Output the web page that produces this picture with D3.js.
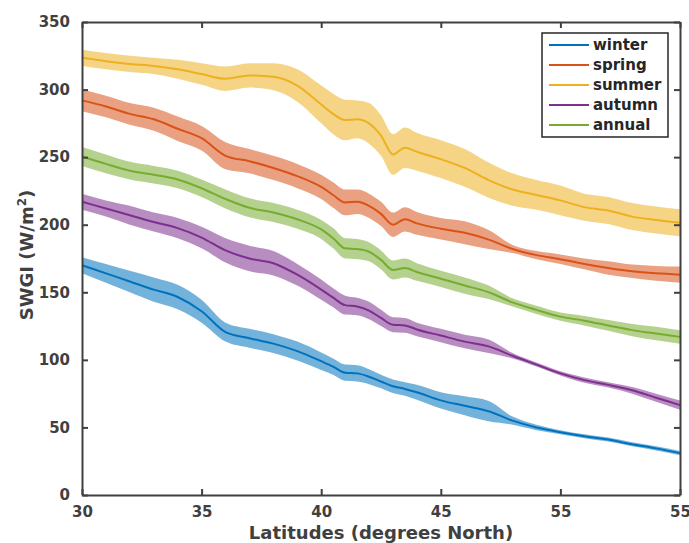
<!DOCTYPE html>
<html>
<head>
<meta charset="utf-8">
<script src="https://cdn.jsdelivr.net/npm/d3@7"></script>
<style>
  html, body { margin: 0; padding: 0; background: #fff; }
  svg { display: block; font-family: "DejaVu Sans", sans-serif; }
</style>
</head>
<body>
<svg id="chart" width="689" height="543"></svg>
<script>
// Latitude grid (degrees North)
const latitudes = [30, 31, 32, 33, 34, 35, 36, 37, 38, 39, 40, 40.5, 41, 41.5, 42, 42.5, 43, 43.5, 44, 45, 46, 47, 48, 49, 50, 51, 52, 53, 54, 55];

// Mean SWGI per season (W/m^2)
const winterMean = [170, 164, 158, 152, 146.5, 136, 120.5, 116, 112, 106.5, 99, 95, 90.5, 90, 87.5, 84, 80.5, 78.5, 76, 70, 66, 62, 55, 50, 46.5, 43.5, 41, 37.5, 34.5, 31];
const springMean = [292, 287.5, 282, 278, 271, 264, 251, 247, 242, 236, 228, 222, 216.5, 217, 214, 208, 200, 204, 201, 197, 194, 189, 182, 177.5, 174.5, 171, 168, 165.5, 164, 163];
const summerMean = [323.5, 321, 319, 317.5, 315, 311.5, 308, 310.5, 309.5, 303, 289, 282, 277.5, 278, 275, 266, 252, 257, 254, 248.5, 242, 233, 226, 222, 218, 213, 210.5, 206, 203.5, 201.5];
const autumnMean = [217, 212, 207, 202, 197.5, 190.5, 181, 175, 171.5, 163, 152, 146, 140.5, 139.5, 136.5, 131, 126, 125.5, 122.5, 118, 113.5, 110, 103, 96.5, 90, 85, 81.5, 77.5, 72, 66.5];
const annualMean = [250.5, 245, 240, 237, 233.5, 227, 219, 212.5, 209, 204, 196.5, 190, 182.5, 182, 180, 174, 166.5, 168, 165, 160, 155, 150, 142.5, 137, 132, 129, 125.5, 122, 119.5, 117];

// Half-width of the spread band around each mean (W/m^2)
const winterSpread = [6, 7, 8, 9, 9, 8.5, 7, 7, 7, 7, 6.5, 6, 6, 6, 5.5, 5, 5, 5, 5.5, 6, 7, 7.5, 3, 2, 1.5, 1.5, 1.5, 1.5, 1.5, 1.5];
const springSpread = [8, 8, 8, 8.5, 9, 9, 10, 9, 9, 9, 9, 9.5, 9.5, 9, 9, 9, 9, 9, 8.5, 8, 8.5, 7, 3, 3, 3.5, 4, 5, 5, 5.5, 6];
const summerSpread = [6, 6, 6, 6, 7, 8, 9, 9, 10, 12, 14, 15, 15, 14, 15, 15, 15, 15, 14, 14, 14, 13, 12, 11, 11, 10, 10, 10, 10, 10];
const autumnSpread = [6, 6, 7, 7, 7.5, 8, 9, 9.5, 9, 8, 7.5, 7, 7, 6.5, 6.5, 6, 5.5, 5.5, 5, 5, 5, 5, 2, 1.5, 1.5, 2, 2, 2.5, 3, 3.5];
const annualSpread = [7, 7, 6.5, 6.5, 6.5, 6.5, 7, 7, 7, 7, 7, 7.5, 7.5, 7.5, 7, 7, 7, 7, 6.5, 6, 6, 5, 3, 3, 3, 3.5, 4, 4.5, 5, 5];

const seriesNames = ["winter", "spring", "summer", "autumn", "annual"];
const seriesColors = ["#0072BD", "#D95319", "#EDB120", "#7E2F8E", "#77AC30"];
const seriesMeans = [winterMean, springMean, summerMean, autumnMean, annualMean];
const seriesSpreads = [winterSpread, springSpread, summerSpread, autumnSpread, annualSpread];

const xTickValues = [30, 35, 40, 45, 50, 55];
const xTickLabels = ["30", "35", "40", "45", "55", "55"];
const yTickValues = [0, 50, 100, 150, 200, 250, 300, 350];

const svg = d3.select("#chart");
const margin = { left: 82, right: 9, top: 22, bottom: 48 };
const W = 689, H = 543;
const x = d3.scaleLinear().domain([30, 55]).range([margin.left, W - margin.right]);
const y = d3.scaleLinear().domain([0, 350]).range([H - margin.bottom, margin.top]);

const axisColor = "#404040";
const fontSize = 15;

// Draw bands first, then mean lines on top
const plot = svg.append("g");
seriesNames.forEach((name, i) => {
  const rows = latitudes.map((lat, j) => ({ lat, m: seriesMeans[i][j], s: seriesSpreads[i][j] }));
  const area = d3.area()
    .x(d => x(d.lat))
    .y0(d => y(d.m - d.s))
    .y1(d => y(d.m + d.s))
    .curve(d3.curveMonotoneX);
  plot.append("path")
    .datum(rows)
    .attr("d", area)
    .attr("fill", seriesColors[i])
    .attr("fill-opacity", 0.55)
    .attr("stroke", "none");
});
seriesNames.forEach((name, i) => {
  const rows = latitudes.map((lat, j) => ({ lat, m: seriesMeans[i][j] }));
  const line = d3.line()
    .x(d => x(d.lat))
    .y(d => y(d.m))
    .curve(d3.curveMonotoneX);
  plot.append("path")
    .datum(rows)
    .attr("d", line)
    .attr("fill", "none")
    .attr("stroke", seriesColors[i])
    .attr("stroke-width", 2);
});

// Axes with inward ticks on all four sides
const tickLen = 6;
const xBottom = d3.axisBottom(x).tickValues(xTickValues).tickSizeInner(-tickLen).tickSizeOuter(0)
  .tickPadding(tickLen + 5).tickFormat((d, i) => xTickLabels[i]);
const xTop = d3.axisTop(x).tickValues(xTickValues).tickSizeInner(-tickLen).tickSizeOuter(0).tickFormat("");
const yLeft = d3.axisLeft(y).tickValues(yTickValues).tickSizeInner(-tickLen).tickSizeOuter(0)
  .tickPadding(tickLen + 6);
const yRight = d3.axisRight(y).tickValues(yTickValues).tickSizeInner(-tickLen).tickSizeOuter(0).tickFormat("");

function styleAxis(g) {
  g.selectAll(".domain").attr("stroke", axisColor).attr("stroke-width", 2);
  g.selectAll(".tick line").attr("stroke", axisColor).attr("stroke-width", 2);
  g.selectAll(".tick text").attr("fill", axisColor).attr("font-size", fontSize)
    .attr("font-weight", "bold").attr("font-family", "DejaVu Sans, sans-serif");
}
svg.append("g").attr("transform", `translate(0,${y(0)})`).call(xBottom).call(styleAxis);
svg.append("g").attr("transform", `translate(0,${y(350)})`).call(xTop).call(styleAxis);
svg.append("g").attr("transform", `translate(${x(30)},0)`).call(yLeft).call(styleAxis);
svg.append("g").attr("transform", `translate(${x(55)},0)`).call(yRight).call(styleAxis);

// Axis titles
svg.append("text")
  .attr("x", (x(30) + x(55)) / 2)
  .attr("y", 539)
  .attr("text-anchor", "middle")
  .attr("fill", axisColor)
  .attr("font-size", 18)
  .attr("font-weight", "bold")
  .text("Latitudes (degrees North)");

const yTitle = svg.append("text")
  .attr("transform", `translate(33,255) rotate(-90)`)
  .attr("text-anchor", "middle")
  .attr("fill", axisColor)
  .attr("font-size", 18)
  .attr("font-weight", "bold");
yTitle.append("tspan").text("SWGI (W/m");
yTitle.append("tspan").attr("baseline-shift", "super").attr("font-size", 12).text("2");
yTitle.append("tspan").text(")");

// Legend
const legend = svg.append("g").attr("transform", "translate(542,33)");
legend.append("rect")
  .attr("width", 126).attr("height", 104)
  .attr("fill", "#fff")
  .attr("stroke", "#262626").attr("stroke-width", 1.5);
seriesNames.forEach((name, i) => {
  const ry = 12 + i * 20;
  legend.append("line")
    .attr("x1", 7).attr("x2", 47)
    .attr("y1", ry).attr("y2", ry)
    .attr("stroke", seriesColors[i]).attr("stroke-width", 2);
  legend.append("text")
    .attr("x", 51).attr("y", ry)
    .attr("dy", "0.35em")
    .attr("fill", "#262626")
    .attr("font-size", fontSize)
    .attr("font-weight", "bold")
    .text(name);
});
</script>
</body>
</html>
